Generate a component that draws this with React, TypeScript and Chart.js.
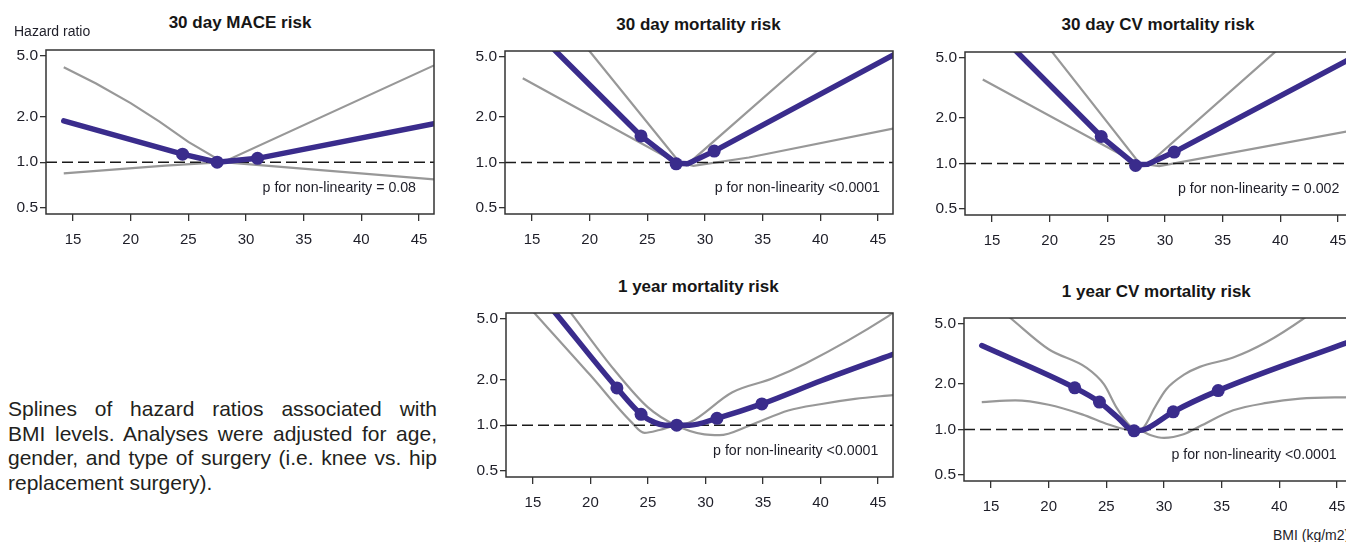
import React, { useEffect, useRef } from "react";
import { Chart, registerables } from "chart.js";

Chart.register(...registerables);

// ---------- shared axis values ----------
const X_MIN = 12.66;
const X_MAX = 46.3;
const Y_MIN = 0.456;
const Y_MAX = 5.48;
const xTicks = [15, 20, 25, 30, 35, 40, 45];
const yTicks = [0.5, 1, 2, 5];
const REF_HR = 1;

// ---------- Panel 1: 30 day MACE risk ----------
const maceTitle = "30 day MACE risk";
const maceP = "p for non-linearity = 0.08";
const maceX = [14.2, 24.5, 27.5, 31.0, 46.3];
const maceHR = [1.87, 1.13, 1.0, 1.06, 1.79];
const maceAX = [14.2, 17.0, 20.0, 22.5, 25.0, 28.0, 46.3];
const maceAY = [4.22, 3.3, 2.45, 1.85, 1.36, 1.0, 0.77];
const maceBX = [14.2, 23.0, 28.0, 46.3];
const maceBY = [0.845, 0.95, 1.0, 4.34];
const maceKnotX = [24.5, 27.5, 31.0];
const maceKnotY = [1.13, 1.0, 1.06];

// ---------- Panel 2: 30 day mortality risk ----------
const mort30Title = "30 day mortality risk";
const mort30P = "p for non-linearity <0.0001";
const mort30X = [14.2, 17.05, 24.45, 27.5, 28.5, 30.8, 46.3];
const mort30HR = [9.0, 5.48, 1.5, 0.99, 0.98, 1.19, 5.15];
const mort30AX = [14.2, 19.98, 27.8, 29.0, 33.8, 46.3];
const mort30AY = [19.3, 5.48, 1.0, 0.95, 1.08, 1.68];
const mort30BX = [14.2, 27.5, 28.4, 39.7, 46.3];
const mort30BY = [3.62, 1.0, 0.96, 5.48, 14.8];
const mort30KnotX = [24.45, 27.5, 30.8];
const mort30KnotY = [1.5, 0.98, 1.19];

// ---------- Panel 3: 30 day CV mortality risk ----------
const cv30Title = "30 day CV mortality risk";
const cv30P = "p for non-linearity = 0.002";
const cv30X = [14.2, 17.2, 24.47, 27.45, 28.5, 30.8, 46.3];
const cv30HR = [9.25, 5.45, 1.51, 0.98, 0.99, 1.19, 5.05];
const cv30AX = [14.2, 20.24, 27.8, 29.5, 46.3];
const cv30AY = [21, 5.45, 1.0, 0.96, 1.66];
const cv30BX = [14.2, 27.6, 28.4, 39.5, 46.3];
const cv30BY = [3.6, 1.0, 0.97, 5.45, 15];
const cv30KnotX = [24.47, 27.45, 30.8];
const cv30KnotY = [1.51, 0.97, 1.19];

// ---------- Panel 4: 1 year mortality risk ----------
const mort1yTitle = "1 year mortality risk";
const mort1yP = "p for non-linearity <0.0001";
const mort1yX = [14.2, 16.9, 22.3, 24.4, 25.6, 26.5, 27.5, 28.6, 31.0, 34.9, 40.1, 46.3];
const mort1yHR = [9.8, 5.55, 1.76, 1.18, 1.04, 1.0, 1.0, 1.0, 1.11, 1.38, 1.97, 2.93];
const mort1yAX = [14.2, 18.25, 22.1, 25.0, 27.4, 29.9, 31.2, 33.9, 37.2, 40.1, 43.0, 46.3];
const mort1yAY = [14, 5.55, 2.3, 1.31, 1.0, 0.87, 0.86, 1.0, 1.25, 1.38, 1.49, 1.58];
const mort1yBX = [14.2, 15.06, 20.0, 23.5, 24.7, 26.0, 27.4, 28.6, 32.34, 35.8, 38.7, 45.86, 46.3];
const mort1yBY = [6.55, 5.55, 2.13, 1.06, 0.89, 0.93, 1.0, 1.04, 1.65, 2.03, 2.55, 5.21, 5.5];
const mort1yKnotX = [22.3, 24.4, 27.5, 31.0, 34.9];
const mort1yKnotY = [1.76, 1.18, 1.0, 1.11, 1.38];

// ---------- Panel 5: 1 year CV mortality risk ----------
const cv1yTitle = "1 year CV mortality risk";
const cv1yP = "p for non-linearity <0.0001";
const cv1yX = [14.2, 22.26, 24.4, 26.0, 27.4, 28.3, 30.8, 34.7, 46.3];
const cv1yHR = [3.6, 1.89, 1.52, 1.2, 0.98, 1.0, 1.31, 1.81, 3.87];
const cv1yAX = [14.2, 16.65, 20.0, 23.3, 24.8, 25.9, 27.1, 27.8, 28.8, 30.0, 31.7, 33.1, 36.0, 38.9, 41.8, 46.3];
const cv1yAY = [7.8, 5.5, 3.4, 2.56, 1.99, 1.39, 1.05, 1.0, 0.92, 0.88, 0.93, 1.05, 1.34, 1.5, 1.6, 1.64];
const cv1yBX = [14.2, 17.1, 20.0, 22.9, 25.2, 26.7, 27.7, 28.3, 29.2, 30.2, 31.7, 33.1, 36.0, 38.9, 42.2, 46.3];
const cv1yBY = [1.52, 1.56, 1.46, 1.26, 1.08, 1.0, 0.98, 1.05, 1.4, 1.85, 2.3, 2.6, 3.0, 3.8, 5.5, 9.5];
const cv1yKnotX = [22.26, 24.4, 27.4, 30.8, 34.7];
const cv1yKnotY = [1.89, 1.52, 0.98, 1.31, 1.81];

// ---------- text ----------
const yAxisLabel = "Hazard ratio";
const xAxisLabel = "BMI (kg/m2)";
const captionLines = [
  "Splines of hazard ratios associated with",
  "BMI levels. Analyses were adjusted for age,",
  "gender, and type of surgery (i.e. knee vs. hip",
  "replacement surgery).",
];

// ---------- styles / layout ----------
const FONT = '"Liberation Sans", Arial, Helvetica, sans-serif';
const PURPLE = "rgb(58, 44, 140)";
const GRAY = "rgb(152, 152, 152)";
const AXIS = "#333333";
const TEXT = "#1e1e28";
const Y_AXIS_W = 46;
const X_AXIS_H = 40;
const PAD_T = 12;
const PAD_R = 12;

type Box = { left: number; top: number; width: number; height: number };

const panelBoxes: Box[] = [
  { left: 46, top: 50, width: 388, height: 164 },
  { left: 505, top: 51, width: 388, height: 163 },
  { left: 965, top: 52, width: 388, height: 163 },
  { left: 506, top: 313, width: 387, height: 164 },
  { left: 964, top: 318, width: 388, height: 163 },
];

// title: center x, baseline y ; p text: right x, baseline y
const titlePos = [
  [240, 29.5],
  [698.5, 31],
  [1158, 30.7],
  [698.3, 293.3],
  [1156.3, 298.3],
];
const pPos = [
  [416, 192.3],
  [880, 192.7],
  [1339.3, 193.3],
  [878.3, 455],
  [1336.7, 459],
];

function pts(xs: number[], ys: number[]) {
  return xs.map((x, i) => ({ x, y: ys[i] }));
}

type PanelData = {
  title: string;
  p: string;
  hrX: number[];
  hrY: number[];
  aX: number[];
  aY: number[];
  bX: number[];
  bY: number[];
  knotX: number[];
  knotY: number[];
  smooth: boolean;
};

const panels: PanelData[] = [
  { title: maceTitle, p: maceP, hrX: maceX, hrY: maceHR, aX: maceAX, aY: maceAY, bX: maceBX, bY: maceBY, knotX: maceKnotX, knotY: maceKnotY, smooth: false },
  { title: mort30Title, p: mort30P, hrX: mort30X, hrY: mort30HR, aX: mort30AX, aY: mort30AY, bX: mort30BX, bY: mort30BY, knotX: mort30KnotX, knotY: mort30KnotY, smooth: false },
  { title: cv30Title, p: cv30P, hrX: cv30X, hrY: cv30HR, aX: cv30AX, aY: cv30AY, bX: cv30BX, bY: cv30BY, knotX: cv30KnotX, knotY: cv30KnotY, smooth: false },
  { title: mort1yTitle, p: mort1yP, hrX: mort1yX, hrY: mort1yHR, aX: mort1yAX, aY: mort1yAY, bX: mort1yBX, bY: mort1yBY, knotX: mort1yKnotX, knotY: mort1yKnotY, smooth: true },
  { title: cv1yTitle, p: cv1yP, hrX: cv1yX, hrY: cv1yHR, aX: cv1yAX, aY: cv1yAY, bX: cv1yBX, bY: cv1yBY, knotX: cv1yKnotX, knotY: cv1yKnotY, smooth: true },
];

const boxPlugin = {
  id: "plotBox",
  afterDatasetsDraw(chart: any) {
    const { ctx, chartArea: a } = chart;
    ctx.save();
    ctx.strokeStyle = AXIS;
    ctx.lineWidth = 1.5;
    ctx.strokeRect(a.left, a.top, a.right - a.left, a.bottom - a.top);
    ctx.restore();
  },
};

function SplinePanel({ d, box }: { d: PanelData; box: Box }) {
  const ref = useRef<HTMLCanvasElement>(null);
  const cw = Y_AXIS_W + box.width + PAD_R;
  const ch = PAD_T + box.height + X_AXIS_H;

  useEffect(() => {
    const interp = d.smooth ? "monotone" : "default";
    const chart = new Chart(ref.current as HTMLCanvasElement, {
      type: "line",
      data: {
        datasets: [
          {
            data: pts(d.knotX, d.knotY),
            showLine: false,
            pointRadius: 6.5,
            pointBorderWidth: 0,
            pointBackgroundColor: PURPLE,
            borderColor: PURPLE,
            order: 0,
            clip: false,
          } as any,
          {
            data: pts(d.hrX, d.hrY),
            borderColor: PURPLE,
            borderWidth: 5.5,
            pointRadius: 0,
            tension: 0,
            cubicInterpolationMode: interp,
            borderCapStyle: "round",
            borderJoinStyle: "round",
            order: 1,
            clip: 0,
          },
          {
            data: [
              { x: X_MIN, y: REF_HR },
              { x: X_MAX, y: REF_HR },
            ],
            borderColor: "#1a1a1a",
            borderWidth: 1.5,
            borderDash: [11, 5],
            pointRadius: 0,
            order: 2,
            clip: 0,
          },
          {
            data: pts(d.aX, d.aY),
            borderColor: GRAY,
            borderWidth: 2.2,
            pointRadius: 0,
            tension: 0,
            cubicInterpolationMode: interp,
            order: 3,
            clip: 0,
          },
          {
            data: pts(d.bX, d.bY),
            borderColor: GRAY,
            borderWidth: 2.2,
            pointRadius: 0,
            tension: 0,
            cubicInterpolationMode: interp,
            order: 4,
            clip: 0,
          },
        ],
      },
      options: {
        animation: false,
        responsive: false,
        devicePixelRatio: 1,
        events: [],
        layout: { padding: { top: PAD_T, right: PAD_R, left: 0, bottom: 0 } },
        plugins: { legend: { display: false }, tooltip: { enabled: false } },
        scales: {
          x: {
            type: "linear",
            min: X_MIN,
            max: X_MAX,
            afterBuildTicks: (s: any) => {
              s.ticks = xTicks.map((v) => ({ value: v }));
            },
            afterFit: (s: any) => {
              s.height = X_AXIS_H;
            },
            grid: { display: true, drawOnChartArea: false, drawTicks: true, tickLength: 7, color: AXIS, lineWidth: 1.3 },
            border: { display: false },
            ticks: {
              autoSkip: false,
              maxRotation: 0,
              padding: 10,
              color: TEXT,
              font: { family: FONT, size: 15 },
              callback: (v: any) => String(v),
            },
          },
          y: {
            type: "logarithmic",
            min: Y_MIN,
            max: Y_MAX,
            afterBuildTicks: (s: any) => {
              s.ticks = yTicks.map((v) => ({ value: v }));
            },
            afterFit: (s: any) => {
              s.width = Y_AXIS_W;
            },
            grid: { display: true, drawOnChartArea: false, drawTicks: true, tickLength: 6, color: AXIS, lineWidth: 1.3 },
            border: { display: false },
            ticks: {
              autoSkip: false,
              padding: 2,
              color: TEXT,
              font: { family: FONT, size: 15.5 },
              callback: (v: any) => Number(v).toFixed(1),
            },
          },
        },
      },
      plugins: [boxPlugin],
    } as any);
    return () => chart.destroy();
  }, []);

  return (
    <canvas
      ref={ref}
      width={cw}
      height={ch}
      style={{
        position: "absolute",
        left: box.left - Y_AXIS_W,
        top: box.top - PAD_T,
        width: cw,
        height: ch,
      }}
    />
  );
}

function topFromBaseline(baseline: number, size: number) {
  return baseline - 0.9465 * size;
}

export default function App() {
  const capSize = 21;
  const capLH = 24.5;
  const capTop0 = 416.7 - ((capLH - 1.117 * capSize) / 2 + 0.905 * capSize);
  return (
    <div
      style={{
        position: "fixed",
        left: 0,
        top: 0,
        width: 1346,
        height: 542,
        overflow: "hidden",
        background: "#ffffff",
        fontFamily: FONT,
        color: TEXT,
      }}
    >
      {panels.map((d, i) => (
        <SplinePanel key={i} d={d} box={panelBoxes[i]} />
      ))}
      {panels.map((d, i) => (
        <div
          key={"t" + i}
          style={{
            position: "absolute",
            left: titlePos[i][0],
            top: topFromBaseline(titlePos[i][1], 17),
            transform: "translateX(-50%)",
            fontSize: 17,
            lineHeight: 1.2,
            fontWeight: "bold",
            whiteSpace: "nowrap",
            color: "#161616",
          }}
        >
          {d.title}
        </div>
      ))}
      {panels.map((d, i) => (
        <div
          key={"p" + i}
          style={{
            position: "absolute",
            right: 1346 - pPos[i][0],
            top: topFromBaseline(pPos[i][1], 14.2),
            fontSize: 14.2,
            lineHeight: 1.2,
            whiteSpace: "nowrap",
          }}
        >
          {d.p}
        </div>
      ))}
      <div
        style={{
          position: "absolute",
          left: 14,
          top: topFromBaseline(36.7, 14),
          fontSize: 14,
          lineHeight: 1.2,
          whiteSpace: "nowrap",
        }}
      >
        {yAxisLabel}
      </div>
      <div
        style={{
          position: "absolute",
          left: 1273,
          top: topFromBaseline(540.5, 14),
          fontSize: 14,
          lineHeight: 1.2,
          whiteSpace: "nowrap",
        }}
      >
        {xAxisLabel}
      </div>
      {captionLines.map((line, i) => (
        <div
          key={"c" + i}
          style={{
            position: "absolute",
            left: 8,
            top: capTop0 + i * capLH,
            width: 429,
            fontSize: capSize,
            lineHeight: capLH + "px",
            textAlign: i < captionLines.length - 1 ? "justify" : "left",
            textAlignLast: i < captionLines.length - 1 ? "justify" : "left",
            whiteSpace: "nowrap",
            color: "#231f20",
          } as any}
        >
          {line}
        </div>
      ))}
    </div>
  );
}
